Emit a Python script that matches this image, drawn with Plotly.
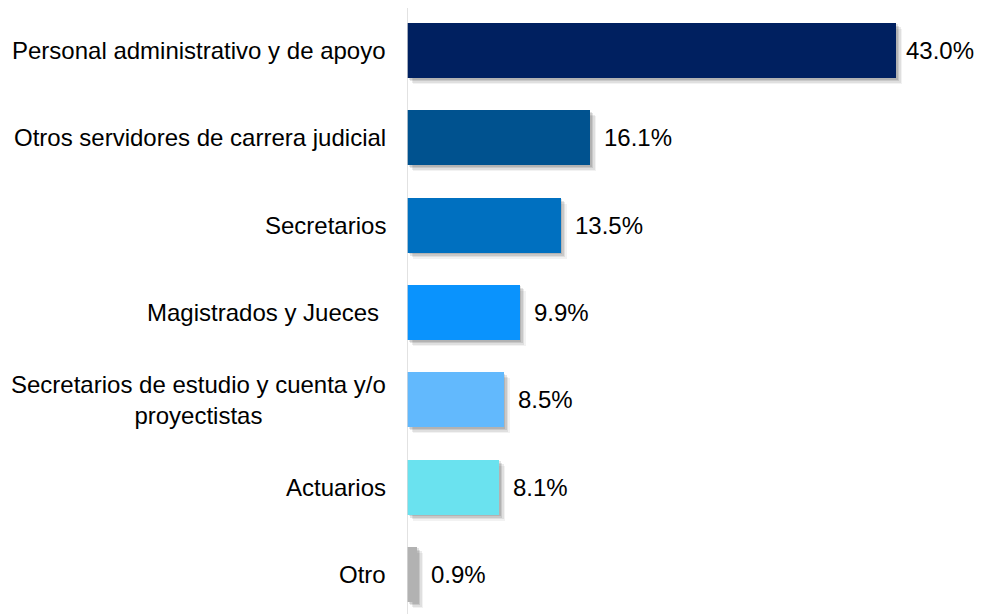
import plotly.graph_objects as go

categories = [
    "Personal administrativo y de apoyo",
    "Otros servidores de carrera judicial",
    "Secretarios",
    "Magistrados y Jueces\u00a0",
    "Secretarios de estudio y cuenta y/o<br>proyectistas",
    "Actuarios",
    "Otro",
]
values = [43.0, 16.1, 13.5, 9.9, 8.5, 8.1, 0.9]
value_labels = ["43.0%", "16.1%", "13.5%", "9.9%", "8.5%", "8.1%", "0.9%"]
colors = ["#002060", "#00528F", "#0070C0", "#0A93FD", "#62B9FD", "#6AE2EF", "#B2B2B2"]

# page has an 8px body margin, so the figure is sized/offset to compensate
W, H = 974, 606
ml, mr, mt, mb = 399, 6, 0, 0
x_range = [0, 50]
y_range = [-0.4523, 6.4867]
px_x = (x_range[1] - x_range[0]) / (W - ml - mr)
px_y = (y_range[1] - y_range[0]) / (H - mt - mb)

n = len(categories)
ypos = [n - 1 - i for i in range(n)]
bar_w = 0.63

fig = go.Figure()

# soft drop shadow layers
for d, a in [(1.5, 0.10), (3.0, 0.10), (4.5, 0.08), (6.0, 0.05)]:
    fig.add_trace(go.Bar(
        x=values, y=[p - d * px_y for p in ypos], base=[d * px_x] * n,
        orientation="h", width=bar_w,
        marker=dict(color=f"rgba(0,0,0,{a})", line=dict(width=0)),
        hoverinfo="skip", showlegend=False,
    ))

fig.add_trace(go.Bar(
    x=values, y=ypos, orientation="h", width=bar_w,
    marker=dict(color=colors, line=dict(width=0)),
    showlegend=False,
))

font = dict(family="Arial, Liberation Sans, sans-serif", size=24, color="#000000")

annotations = []
for i, (v, lab, p) in enumerate(zip(values, value_labels, ypos)):
    annotations.append(dict(
        x=v, y=p, xref="x", yref="y", text=lab, showarrow=False,
        xanchor="left", yanchor="middle", xshift=9 if i == 0 else 13, font=font,
        borderpad=0,
    ))
for c, p in zip(categories, ypos):
    annotations.append(dict(
        x=0, y=p, xref="paper", yref="y", text=c, showarrow=False,
        xanchor="right", yanchor="middle", xshift=-19, align="center", font=font,
    ))

fig.update_layout(
    width=W, height=H,
    margin=dict(l=ml, r=mr, t=mt, b=mb, pad=0),
    paper_bgcolor="white", plot_bgcolor="white",
    barmode="overlay", bargap=0,
    xaxis=dict(range=x_range, visible=False, fixedrange=True),
    yaxis=dict(range=y_range, showticklabels=False, showgrid=False, zeroline=False,
               showline=False, ticks=""),
    shapes=[dict(type="line", xref="x", yref="paper", x0=0, x1=0, y0=0, y1=1,
                 line=dict(color="#D9D9D9", width=1.5))],
    annotations=annotations,
)

fig.write_html("out.html")
